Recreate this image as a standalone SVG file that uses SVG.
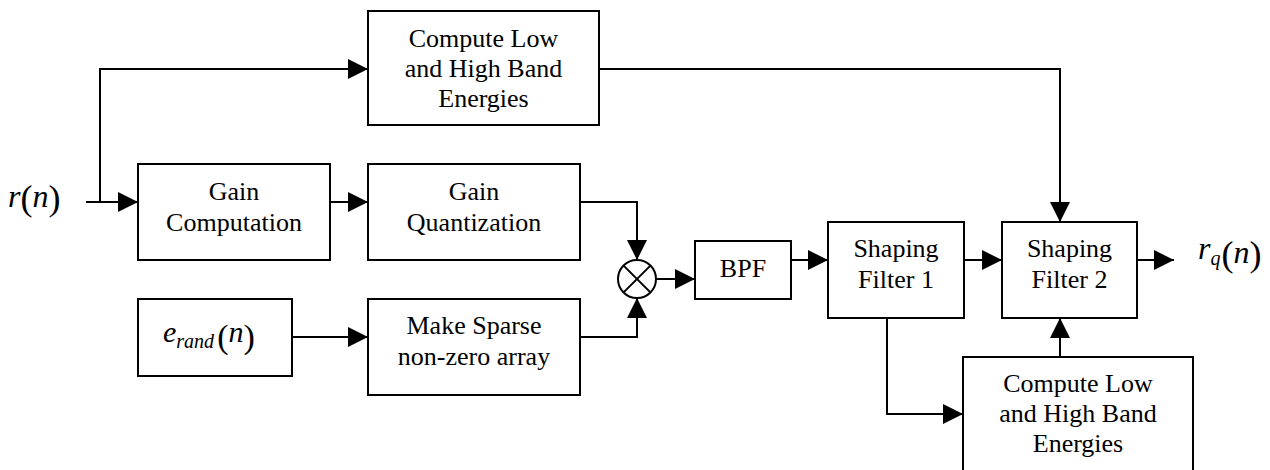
<svg xmlns="http://www.w3.org/2000/svg" width="1270" height="470" viewBox="0 0 1270 470">
<style>
.box{fill:#fff;stroke:#000;stroke-width:2}
.wire{fill:none;stroke:#000;stroke-width:2}
.t{font-size:26px;fill:#000;text-anchor:middle}
.m{fill:#000}
</style>
<defs>
<marker id="arr" markerUnits="userSpaceOnUse" markerWidth="21" markerHeight="20" refX="20" refY="10" orient="auto" viewBox="0 0 21 20">
<path d="M0,0 L20,10 L0,20 z" fill="#000"/>
</marker>
</defs>
<rect width="1270" height="470" fill="#fff"/>
<g id="connectors">
<path class="wire" d="M86,202 L138,202" marker-end="url(#arr)"/>
<path class="wire" d="M100,202 L100,69 L368,69" marker-end="url(#arr)"/>
<path class="wire" d="M599,69 L1060,69 L1060,222" marker-end="url(#arr)"/>
<path class="wire" d="M330,202 L368,202" marker-end="url(#arr)"/>
<path class="wire" d="M580,202 L637,202 L637,260" marker-end="url(#arr)"/>
<path class="wire" d="M292,337 L368,337" marker-end="url(#arr)"/>
<path class="wire" d="M580,337 L637,337 L637,298" marker-end="url(#arr)"/>
<path class="wire" d="M656,279 L695,279" marker-end="url(#arr)"/>
<path class="wire" d="M791,260 L828,260" marker-end="url(#arr)"/>
<path class="wire" d="M964,260 L1002,260" marker-end="url(#arr)"/>
<path class="wire" d="M1137,260 L1174,260" marker-end="url(#arr)"/>
<path class="wire" d="M887,318 L887,414 L963,414" marker-end="url(#arr)"/>
<path class="wire" d="M1060,357 L1060,318" marker-end="url(#arr)"/>
</g>
<g font-family="Liberation Serif, Times New Roman, serif">
<g id="input">
<text class="m" x="8" y="207" font-size="32"><tspan font-style="italic">r</tspan><tspan font-size="36" dy="3">(</tspan><tspan font-style="italic" dy="-3">n</tspan><tspan font-size="36" dy="3">)</tspan></text>
</g>
<g id="energy_top">
<rect class="box" x="368" y="11" width="231" height="114"/>
<text class="t" x="483.5" y="47">Compute Low</text>
<text class="t" x="483.5" y="77">and High Band</text>
<text class="t" x="483.5" y="107">Energies</text>
</g>
<g id="gain_comp">
<rect class="box" x="138" y="164" width="192" height="96"/>
<text class="t" x="234" y="200">Gain</text>
<text class="t" x="234" y="231">Computation</text>
</g>
<g id="gain_quant">
<rect class="box" x="368" y="164" width="212" height="96"/>
<text class="t" x="474" y="200">Gain</text>
<text class="t" x="474" y="231">Quantization</text>
</g>
<g id="erand">
<rect class="box" x="138" y="299" width="154" height="77"/>
<text class="m" x="163" y="342" font-size="30"><tspan font-style="italic">e</tspan><tspan font-style="italic" font-size="20" dy="6">rand</tspan><tspan font-size="34" dx="3" dy="0">(</tspan><tspan font-style="italic" dy="-6">n</tspan><tspan font-size="34" dy="6">)</tspan></text>
</g>
<g id="sparse">
<rect class="box" x="368" y="299" width="212" height="96"/>
<text class="t" x="474" y="334">Make Sparse</text>
<text class="t" x="474" y="365">non-zero array</text>
</g>
<g id="mult">
<circle cx="637" cy="279" r="19" fill="#fff" stroke="#000" stroke-width="2"/>
<path d="M623.6,265.6 L650.4,292.4 M650.4,265.6 L623.6,292.4" stroke="#000" stroke-width="2"/>
</g>
<g id="bpf">
<rect class="box" x="695" y="241" width="96" height="58"/>
<text class="t" x="743" y="277">BPF</text>
</g>
<g id="sf1">
<rect class="box" x="828" y="222" width="136" height="96"/>
<text class="t" x="896" y="257">Shaping</text>
<text class="t" x="896" y="288">Filter 1</text>
</g>
<g id="sf2">
<rect class="box" x="1002" y="222" width="135" height="96"/>
<text class="t" x="1069.5" y="257">Shaping</text>
<text class="t" x="1069.5" y="288">Filter 2</text>
</g>
<g id="energy_bottom">
<rect class="box" x="963" y="357" width="230" height="120"/>
<text class="t" x="1078" y="392">Compute Low</text>
<text class="t" x="1078" y="422">and High Band</text>
<text class="t" x="1078" y="452">Energies</text>
</g>
<g id="output">
<text class="m" x="1198" y="259" font-size="32"><tspan font-style="italic">r</tspan><tspan font-style="italic" font-size="20" dy="6">q</tspan><tspan font-size="36" dx="1" dy="1">(</tspan><tspan font-style="italic" dy="-3">n</tspan><tspan font-size="36" dy="3">)</tspan></text>
</g>
</g>
</svg>
